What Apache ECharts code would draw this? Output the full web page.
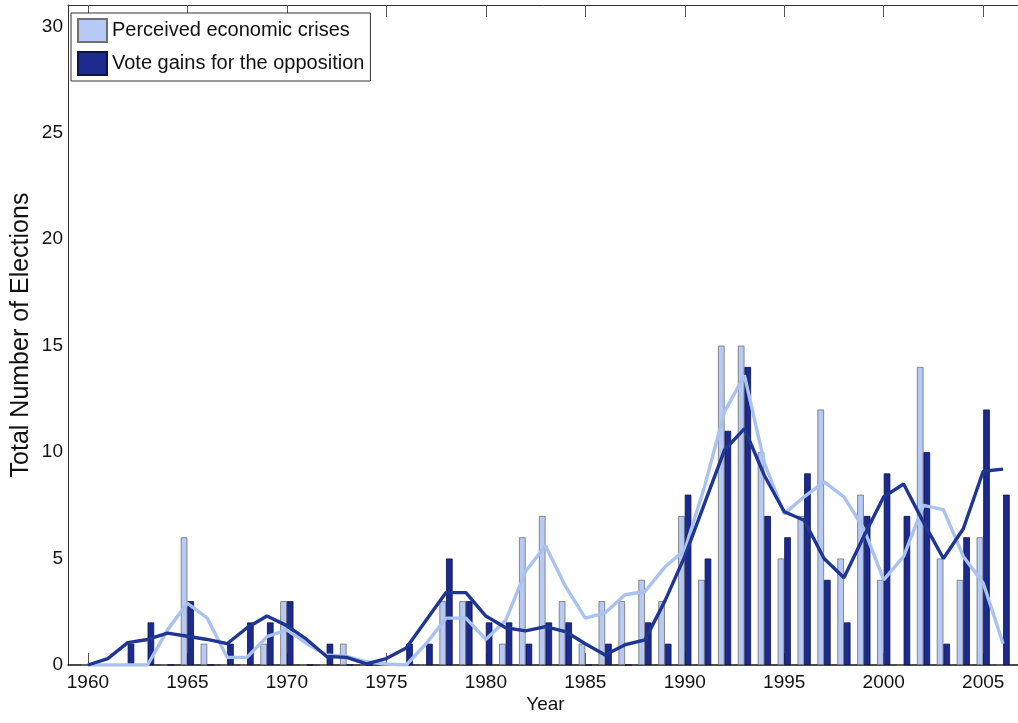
<!DOCTYPE html>
<html>
<head>
<meta charset="utf-8">
<title>Economic crises and vote gains</title>
<script src="https://cdn.jsdelivr.net/npm/echarts@6/dist/echarts.min.js"></script>
<style>
  html, body { margin: 0; padding: 0; background: #fff; }
  #chart { width: 1018px; height: 723px; }
</style>
</head>
<body>
<div id="chart"></div>
<script>
// years with data
const years = [1960, 1961, 1962, 1963, 1964, 1965, 1966, 1967, 1968, 1969,
  1970, 1971, 1972, 1973, 1974, 1975, 1976, 1977, 1978, 1979,
  1980, 1981, 1982, 1983, 1984, 1985, 1986, 1987, 1988, 1989,
  1990, 1991, 1992, 1993, 1994, 1995, 1996, 1997, 1998, 1999,
  2000, 2001, 2002, 2003, 2004, 2005, 2006]

// bars
const crises = [0, 0, 0, 0, 0, 6, 1, 0, 0, 1,
  3, 0, 0, 1, 0, 0, 0, 0, 3, 3,
  0, 1, 6, 7, 3, 1, 3, 3, 4, 3,
  7, 4, 15, 15, 10, 5, 7, 12, 5, 8,
  4, 0, 14, 5, 4, 6, 0]
const gains = [0, 0, 1, 2, 0, 3, 0, 1, 2, 2,
  3, 0, 1, 0, 0, 0, 1, 1, 5, 3,
  2, 2, 1, 2, 2, 0, 1, 0, 2, 1,
  8, 5, 11, 14, 7, 6, 9, 4, 2, 7,
  9, 7, 10, 1, 6, 12, 8]

// smoothed trend lines
const crisesTrend = [0, 0, 0, 0, 1.65, 2.9, 2.2, 0.36, 0.36, 1.33,
  1.65, 1.0, 0.47, 0.4, 0.15, 0.05, 0, 1.0, 2.2, 2.2,
  1.2, 2.1, 4.4, 5.6, 3.7, 2.2, 2.45, 3.3, 3.45, 4.6,
  5.4, 8.4, 11.9, 13.6, 9.5, 7.1, 7.9, 8.6, 7.9, 6.4,
  4.0, 5.1, 7.5, 7.3, 5.1, 3.85, 1.0]
const gainsTrend = [0, 0.3, 1.05, 1.2, 1.5, 1.35, 1.2, 1.0, 1.75, 2.3,
  1.85, 1.2, 0.4, 0.36, 0.05, 0.3, 0.8, 2.1, 3.4, 3.4,
  2.3, 1.75, 1.6, 1.8, 1.57, 1.0, 0.47, 0.95, 1.18, 3.0,
  5.1, 7.6, 10.1, 11.1, 8.9, 7.2, 6.8, 5.0, 4.1, 6.05,
  7.9, 8.5, 6.7, 5.0, 6.4, 9.1, 9.2]

const yTicks = [0, 5, 10, 15, 20, 25, 30]

// axis runs one year beyond the data on each side
const categories = [years[0] - 1].concat(years, [years[years.length - 1] + 1]).map(String)
const pad = arr => [null].concat(arr, [null])

const font = 'Liberation Sans, Arial, sans-serif'
const everyFive = (i, v) => Number(v) % 5 === 0

var myChart = echarts.init(document.getElementById('chart'));
myChart.setOption({
  animation: false,
  textStyle: { fontFamily: font },
  grid: { left: 68, right: -5, top: 5, bottom: 58, outerBoundsMode: 'none', containLabel: false },
  legend: {
    data: ['Perceived economic crises', 'Vote gains for the opposition'],
    orient: 'vertical',
    left: 71,
    top: 13,
    padding: [5, 6, 5, 6],
    itemWidth: 29,
    itemHeight: 23,
    itemGap: 8,
    icon: 'rect',
    selectedMode: false,
    backgroundColor: '#fff',
    borderColor: '#333',
    borderWidth: 1,
    borderRadius: 0,
    textStyle: { fontSize: 20, color: '#111', fontFamily: font }
  },
  xAxis: [
    {
      type: 'category',
      data: categories,
      boundaryGap: false,
      name: 'Year',
      nameLocation: 'middle',
      nameGap: 30,
      nameMoveOverlap: false,
      nameTextStyle: { fontSize: 19, color: '#111' },
      axisLine: { onZero: false, lineStyle: { color: '#111', width: 1.5 } },
      axisTick: { inside: true, length: 12, interval: everyFive, lineStyle: { color: '#555' } },
      axisLabel: { interval: everyFive, fontSize: 19, color: '#111', margin: 8 },
      splitLine: { show: false }
    },
    {
      type: 'category',
      data: categories,
      boundaryGap: false,
      position: 'top',
      axisLine: { onZero: false, lineStyle: { color: '#333' } },
      axisTick: { inside: true, length: 12, interval: everyFive, lineStyle: { color: '#555' } },
      axisLabel: { show: false },
      splitLine: { show: false }
    }
  ],
  yAxis: [
    {
      type: 'value',
      min: 0,
      max: 31,
      interval: 5,
      name: 'Total Number of Elections',
      nameLocation: 'middle',
      nameGap: 34,
      nameMoveOverlap: false,
      nameTextStyle: { fontSize: 25, color: '#111' },
      axisLine: { show: true, onZero: false, lineStyle: { color: '#333' } },
      axisTick: { inside: true, length: 8, lineStyle: { color: '#555' } },
      axisLabel: {
        fontSize: 19, color: '#111', margin: 5,
        formatter: v => yTicks.indexOf(v) >= 0 ? String(v) : ''
      },
      splitLine: { show: false }
    },
    {
      type: 'value',
      min: 0,
      max: 31,
      interval: 5,
      position: 'right',
      axisLine: { show: true, onZero: false, lineStyle: { color: '#333' } },
      axisTick: { inside: true, length: 8, lineStyle: { color: '#555' } },
      axisLabel: { show: false },
      splitLine: { show: false }
    }
  ],
  series: [
    {
      name: 'Perceived economic crises',
      type: 'bar',
      data: pad(crises),
      barWidth: 6.6,
      barGap: '0%',
      itemStyle: { color: '#b7c9f5', borderColor: '#707070', borderWidth: 0.8 }
    },
    {
      name: 'Vote gains for the opposition',
      type: 'bar',
      data: pad(gains),
      barWidth: 6.6,
      barGap: '0%',
      itemStyle: { color: '#1b2a8c', borderColor: '#0c1350', borderWidth: 0.8 }
    },
    {
      name: 'crises trend',
      type: 'line',
      data: pad(crisesTrend),
      symbol: 'none',
      z: 3,
      lineStyle: { color: '#a9c2f0', width: 3.4 }
    },
    {
      name: 'gains trend',
      type: 'line',
      data: pad(gainsTrend),
      symbol: 'none',
      z: 4,
      lineStyle: { color: '#1f3692', width: 3.4 }
    }
  ]
})
</script>
</body>
</html>
